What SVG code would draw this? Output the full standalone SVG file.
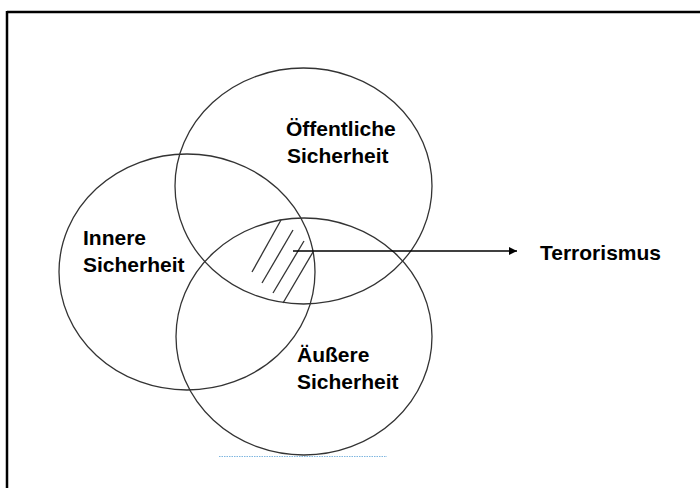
<svg xmlns="http://www.w3.org/2000/svg" width="700" height="488" viewBox="0 0 700 488">
<defs>
<style>
.ring{fill:none;stroke:#333;stroke-width:1.3}
.lbl{font-family:"Liberation Sans",Arial,sans-serif;font-size:21px;font-weight:bold;fill:#000}
.hatch{stroke:#333;stroke-width:1.3}
.conn{stroke:#000;stroke-width:1.3;fill:none}
</style>
<marker id="arr" viewBox="0 0 10 10" refX="10" refY="5" markerWidth="8" markerHeight="8" markerUnits="userSpaceOnUse" orient="auto">
<path d="M0,0 L10,5 L0,10 z" fill="#000"/>
</marker>
</defs>
<rect width="700" height="488" fill="#fff"/>
<g id="frame">
<line x1="7" y1="12" x2="700" y2="12" stroke="#000" stroke-width="2.5"/>
<line x1="7" y1="11" x2="7" y2="488" stroke="#000" stroke-width="2.5"/>
</g>
<g id="oeffentliche">
<ellipse class="ring" cx="303.5" cy="186" rx="128.5" ry="118"/>
<text class="lbl" x="286" y="136">Öffentliche</text>
<text class="lbl" x="287" y="163">Sicherheit</text>
</g>
<g id="innere">
<ellipse class="ring" cx="187" cy="272" rx="128" ry="118"/>
<text class="lbl" x="83" y="245">Innere</text>
<text class="lbl" x="83" y="272">Sicherheit</text>
</g>
<g id="aeussere">
<ellipse class="ring" cx="304" cy="336.5" rx="128" ry="118.5"/>
<text class="lbl" x="297" y="362">Äußere</text>
<text class="lbl" x="297" y="389">Sicherheit</text>
</g>
<g id="schnittmenge">
<line class="hatch" x1="281" y1="220" x2="252" y2="272"/>
<line class="hatch" x1="293" y1="230" x2="262" y2="283"/>
<line class="hatch" x1="304" y1="241" x2="273" y2="293"/>
<line class="hatch" x1="313" y1="252" x2="283" y2="303"/>
</g>
<g id="terrorismus">
<text class="lbl" x="540" y="260">Terrorismus</text>
</g>
<g id="connectors">
<line class="conn" x1="293" y1="251" x2="517" y2="251" marker-end="url(#arr)"/>
</g>
<line x1="219" y1="456.5" x2="387" y2="456.5" stroke="#7fb6e0" stroke-width="1" stroke-dasharray="1.5 1"/>
</svg>
